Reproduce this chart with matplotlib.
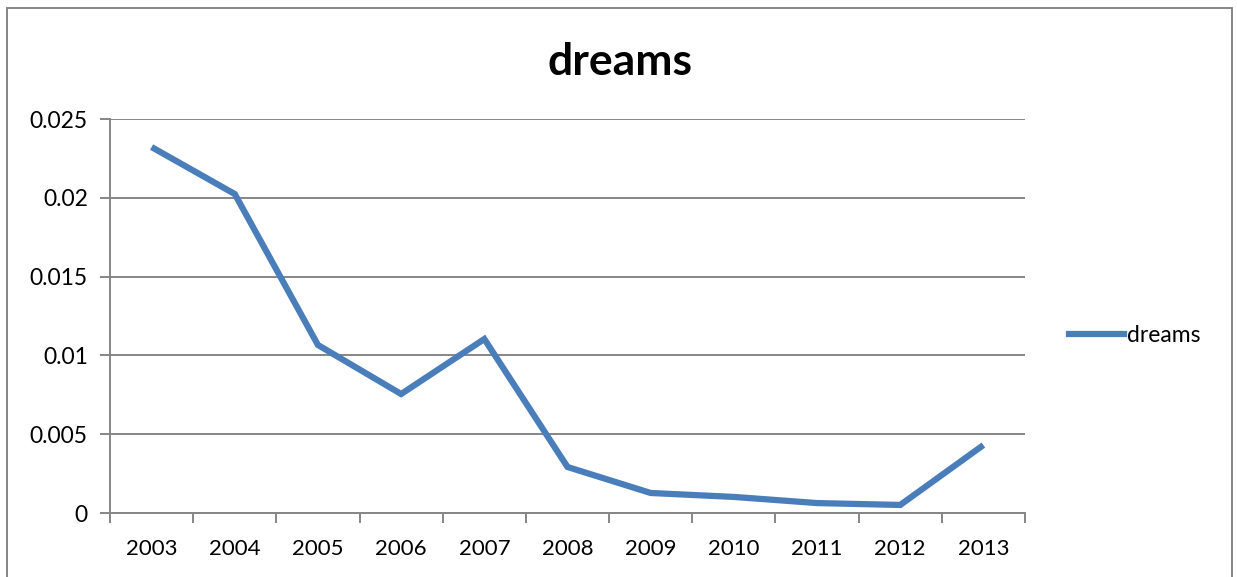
import matplotlib.pyplot as plt
from matplotlib.patches import Rectangle
from matplotlib.lines import Line2D

plt.rcParams["font.family"] = ["Lato", "DejaVu Sans"]

# 数据
years = ["2003", "2004", "2005", "2006", "2007", "2008",
         "2009", "2010", "2011", "2012", "2013"]
dreams = [0.02322, 0.02024, 0.01066, 0.00755, 0.01104, 0.00292,
          0.00127, 0.00102, 0.00063, 0.00051, 0.00431]

grid_c = "#868686"
line_c = "#4A7EBB"

fig = plt.figure(figsize=(12.37, 5.77), dpi=100)
ax = fig.add_axes([110 / 1237, 64 / 577, 915 / 1237, 394 / 577])

x = list(range(len(years)))
ax.plot(x, dreams, color=line_c, lw=4.5, solid_joinstyle="miter",
        solid_capstyle="butt", zorder=3)

ax.set_xlim(-0.5, len(years) - 0.5)
ax.set_ylim(0, 0.025)
ax.set_yticks([0, 0.005, 0.01, 0.015, 0.02, 0.025])
ax.set_yticklabels(["0", "0.005", "0.01", "0.015", "0.02", "0.025"])
ax.set_xticks(x)
ax.set_xticklabels(years)
ax.set_xticks([i - 0.5 for i in range(len(years) + 1)], minor=True)

ax.grid(axis="y", color=grid_c, lw=1.4)
ax.set_axisbelow(True)
for s in ["top", "right"]:
    ax.spines[s].set_visible(False)
for s in ["left", "bottom"]:
    ax.spines[s].set_color(grid_c)
    ax.spines[s].set_linewidth(1.4)

ax.tick_params(axis="x", which="major", length=0, pad=19, labelsize=16)
ax.tick_params(axis="x", which="minor", length=7, width=1.4, color=grid_c)
ax.tick_params(axis="y", length=7, width=1.4, color=grid_c, pad=9,
               labelsize=16.5)

fig.text(620 / 1237, 1 - 62 / 577, "dreams", ha="center", va="center",
         fontsize=32, fontweight="bold")

# 图例
handle = Line2D([0], [0], color=line_c, lw=4.5)
fig.legend([handle], ["dreams"], loc="center left",
           bbox_to_anchor=(1048 / 1237, 1 - 336 / 577), frameon=False,
           fontsize=16.5, handlelength=2.4, handletextpad=0.15)

# 外框
fig.add_artist(Rectangle((7 / 1237, -0.1), 1225 / 1237, 1.1 - 8 / 577,
                         transform=fig.transFigure, fill=False,
                         edgecolor=grid_c, lw=1.4))

fig.savefig("out.png", dpi=100)
